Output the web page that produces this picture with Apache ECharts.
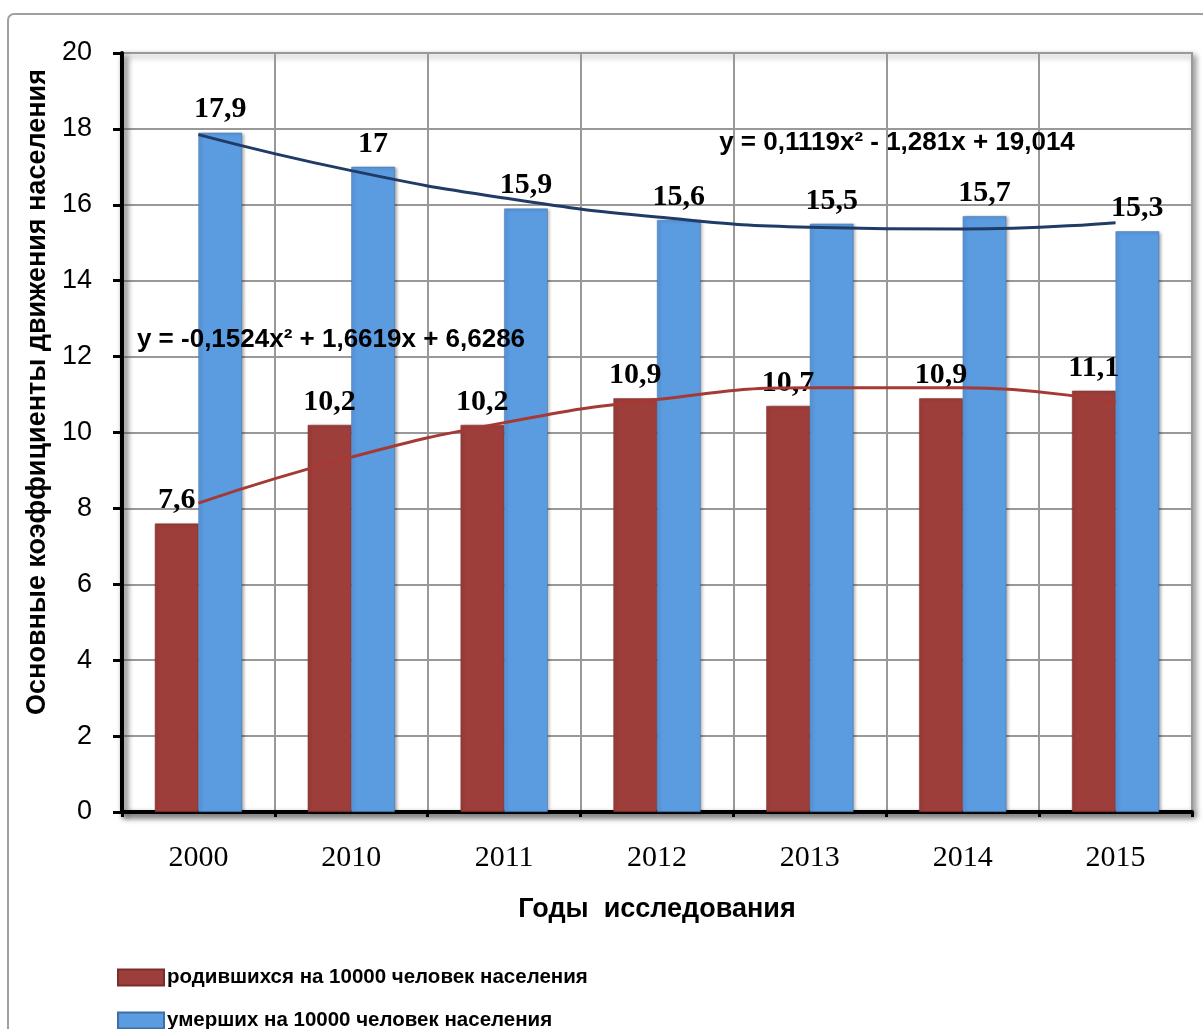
<!DOCTYPE html>
<html><head><meta charset="utf-8">
<script src="https://cdn.jsdelivr.net/npm/echarts@6/dist/echarts.min.js"></script>
<style>html,body{margin:0;padding:0;background:#fff}#c{width:1203px;height:1029px}</style>
</head><body><div id="c"></div>
<script>
const years = ['2000','2010','2011','2012','2013','2014','2015'];
const born = [7.6, 10.2, 10.2, 10.9, 10.7, 10.9, 11.1];
const died = [17.9, 17, 15.9, 15.6, 15.5, 15.7, 15.3];
// trend values at each category
const bornTrend = [8.14, 9.35, 10.26, 10.87, 11.18, 11.18, 10.79];
const diedTrend = [17.85, 16.90, 16.18, 15.68, 15.41, 15.36, 15.53];
const yTicks = [0, 2, 4, 6, 8, 10, 12, 14, 16, 18, 20];
const bornName = 'родившихся на 10000 человек населения';
const diedName = 'умерших на 10000 человек населения';
const eqDied = 'y = 0,1119x² - 1,281x + 19,014';
const eqBorn = 'y = -0,1524x² + 1,6619x + 6,6286';

const chart = echarts.init(document.getElementById('c'));
const fmt = p => String(p.value).replace('.', ',');
const labelStyle = {show: true, position: 'top', distance: 8, fontFamily: 'Liberation Serif', fontWeight: 'bold', fontSize: 30, color: '#000', formatter: fmt};
const axisShadow = {shadowColor: 'rgba(0,0,0,0.55)', shadowBlur: 6, shadowOffsetX: 3, shadowOffsetY: 4};
const legendText = {fontFamily: 'Liberation Sans', fontWeight: 'bold', fontSize: 20.5, color: '#000', padding: [0, 0, 0, -2]};
chart.setOption({
  animation: false,
  grid: {left: 122, right: 11, top: 53, bottom: 217, show: true, borderColor: '#999', borderWidth: 2, shadowColor: 'rgba(0,0,0,0.4)', shadowBlur: 6, shadowOffsetX: 3, shadowOffsetY: 3, backgroundColor: '#fff'},
  graphic: [
    {type: 'rect', shape: {x: 8, y: 14, width: 1220, height: 1040, r: 6}, style: {fill: 'none', stroke: '#a0a0a0', lineWidth: 2}, z: -10, silent: true},
    {type: 'text', x: 38, y: 392, rotation: Math.PI / 2, style: {text: 'Основные коэффициенты движения населения', fontFamily: 'Liberation Sans', fontWeight: 'bold', fontSize: 27, fill: '#000', align: 'center', verticalAlign: 'middle'}},
    {type: 'text', x: 897, y: 143, style: {text: eqDied, fontFamily: 'Liberation Sans', fontWeight: 'bold', fontSize: 26, fill: '#000', align: 'center', verticalAlign: 'middle'}, z: 100},
    {type: 'text', x: 331, y: 340, style: {text: eqBorn, fontFamily: 'Liberation Sans', fontWeight: 'bold', fontSize: 26, fill: '#000', align: 'center', verticalAlign: 'middle'}, z: 100}
  ],
  legend: [
    {left: 112, top: 962, itemWidth: 46, itemHeight: 16, data: [bornName], textStyle: legendText, icon: 'rect'},
    {left: 112, top: 1005, itemWidth: 46, itemHeight: 16, data: [diedName], textStyle: legendText, icon: 'rect'}
  ],
  xAxis: {
    type: 'category', data: years, boundaryGap: true,
    name: 'Годы  исследования', nameLocation: 'middle', nameGap: 84,
    nameTextStyle: {fontFamily: 'Liberation Sans', fontWeight: 'bold', fontSize: 27, color: '#000'},
    axisLine: {lineStyle: Object.assign({color: '#000', width: 4}, axisShadow)},
    axisTick: {show: true, length: 5, lineStyle: {color: '#000', width: 3}},
    axisLabel: {margin: 31, fontFamily: 'Liberation Serif', fontSize: 30, color: '#000'},
    splitLine: {show: true, lineStyle: {color: '#999', width: 2}}
  },
  yAxis: {
    type: 'value', min: 0, max: 20, interval: 2,
    axisLine: {show: true, lineStyle: Object.assign({color: '#000', width: 4}, axisShadow)},
    axisTick: {show: true, length: 9, lineStyle: {color: '#000', width: 3}},
    axisLabel: {margin: 30, fontFamily: 'Liberation Sans', fontSize: 27, color: '#000', formatter: v => yTicks.includes(v) ? String(v) : ''},
    splitLine: {show: true, lineStyle: {color: '#999', width: 2}}
  },
  series: [
    {name: bornName, type: 'bar', data: born, barGap: '0%', barCategoryGap: '43%',
     itemStyle: {color: '#9e3e3b', borderColor: '#7a2d2b', borderWidth: 0.5, shadowColor: 'rgba(0,0,0,0.35)', shadowBlur: 3, shadowOffsetX: 2, shadowOffsetY: 1},
     label: labelStyle, z: 2},
    {name: diedName, type: 'bar', data: died,
     itemStyle: {color: '#5b9be0', borderColor: '#3d6ea6', borderWidth: 0.5, shadowColor: 'rgba(0,0,0,0.35)', shadowBlur: 3, shadowOffsetX: 2, shadowOffsetY: 1},
     label: labelStyle, z: 2},
    {name: 'trendBorn', type: 'line', data: bornTrend, smooth: true, symbol: 'none',
     lineStyle: {color: '#a53a35', width: 3}, z: 5},
    {name: 'trendDied', type: 'line', data: diedTrend, smooth: true, symbol: 'none',
     lineStyle: {color: '#1f3b66', width: 3}, z: 5}
  ]
});
</script></body></html>
